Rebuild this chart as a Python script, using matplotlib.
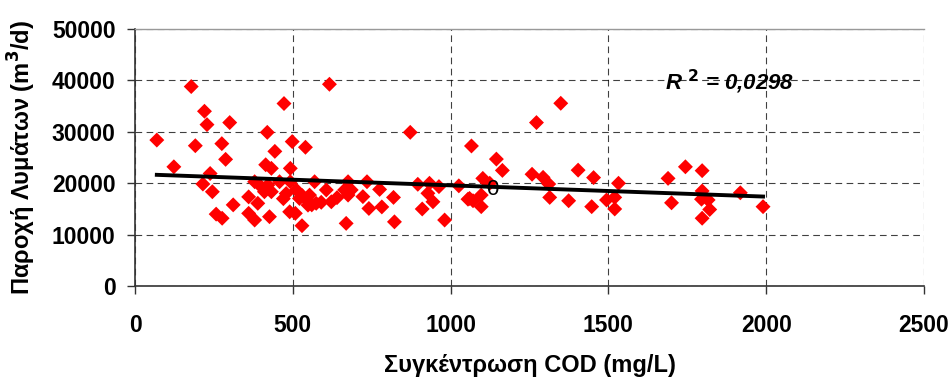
import numpy as np
import matplotlib
matplotlib.use("Agg")
import matplotlib.pyplot as plt

plt.rcParams['font.family'] = ['Liberation Sans', 'DejaVu Sans']

cod = [69, 123, 178, 220, 228, 191, 300, 275, 287, 238, 215, 245, 257, 276, 311,
       360, 389, 360, 379, 426, 419, 443, 472, 414, 432, 379, 400, 421, 410, 432,
       458, 492, 498, 540, 616, 479, 490, 529, 508, 511, 521, 553, 548, 574, 606,
       622, 492, 569, 675, 664, 675, 669, 735, 722, 741, 775, 782, 819, 822, 896,
       933, 963, 928, 944, 910, 981, 1026, 1066, 1102, 1060, 1071, 1097, 1124, 1145,
       1164, 1349, 1272, 1258, 1293, 1311, 1314, 1374, 1404, 1453, 1447, 1494, 1520,
       1532, 1520, 1689, 1744, 1797, 1700, 1797, 1795, 1816, 1821, 1797, 1918, 1990,
       872, 1097, 530, 545, 590, 640, 470, 560, 685, 1055]
flow = [28400, 23200, 38800, 34000, 31400, 27300, 31800, 27700, 24650, 21900, 19850,
        18350, 14000, 13200, 15800, 17350, 16100, 14150, 12850, 13500, 29900, 26200,
        35500, 23600, 22900, 20300, 19300, 19650, 18350, 18350, 20300, 22900, 28100,
        27000, 39250, 18000, 14450, 11750, 14150, 18700, 17050, 17700, 15750, 16100,
        18700, 16400, 20300, 20300, 20300, 18700, 17700, 12200, 20300, 17400, 15100,
        18800, 15400, 17250, 12500, 19800, 20000, 19350, 18050, 16400, 15000, 12850,
        19500, 27250, 20950, 17050, 16600, 15450, 20000, 24700, 22500, 35550, 31800,
        21750, 21150, 19850, 17250, 16600, 22550, 21100, 15450, 16750, 17250, 20000,
        15000, 20950, 23200, 22450, 16200, 18500, 16900, 16750, 14900, 13200, 18150,
        15450, 29900, 17700, 17600, 16800, 16300, 17200, 17000, 15800, 18700, 16900]

r2_text = "R $^{\\mathbf{2}}$ = 0,0298"
xticks = [0, 500, 1000, 1500, 2000, 2500]
yticks = [0, 10000, 20000, 30000, 40000, 50000]

fig = plt.figure(figsize=(9.51, 3.81), dpi=100)
ax = fig.add_axes([0.142, 0.249, 0.8296, 0.675])

ax.scatter(cod, flow, marker='D', s=58, color='#ff0000', edgecolors='none', zorder=3)

x = np.array(cod, dtype=float)
y = np.array(flow, dtype=float)
b, a = np.polyfit(x, y, 1)
xl = np.array([x.min(), x.max()])
ax.plot(xl, a + b * xl, color='black', lw=2.8, zorder=4)

ax.text(1133, 18700, "0", fontsize=16, ha='center', va='center', zorder=5)
ax.text(1884, 39700, r2_text, fontsize=16, fontweight='bold',
        fontstyle='italic', ha='center', va='center', zorder=5)

ax.set_xlim(0, 2500)
ax.set_ylim(0, 50000)
ax.set_xticks(xticks)
ax.set_yticks(yticks)
ax.set_xticklabels([str(t) for t in xticks], fontsize=16.5, fontweight='bold')
ax.set_yticklabels([str(t) for t in yticks], fontsize=16.5, fontweight='bold')
ax.grid(True, color='black', linestyle=(0, (6, 4)), linewidth=0.8, alpha=0.75)
ax.set_axisbelow(True)

for s in ['left', 'bottom']:
    ax.spines[s].set_color('#333333')
    ax.spines[s].set_linewidth(1.2)
ax.spines['top'].set_color('#999999')
ax.spines['top'].set_linewidth(1.0)
ax.spines['right'].set_visible(False)

ax.tick_params(axis='both', direction='out', length=6, width=1, color='#333333')
ax.tick_params(axis='x', pad=14)
ax.tick_params(axis='y', pad=8)

ax.set_xlabel("Συγκέντρωση COD (mg/L)", fontsize=17, fontweight='bold', labelpad=12)
ax.set_ylabel("Παροχή Λυμάτων (m$^\\mathbf{3}$/d)", fontsize=17, fontweight='bold', labelpad=10)

fig.savefig("out.png", dpi=100)
